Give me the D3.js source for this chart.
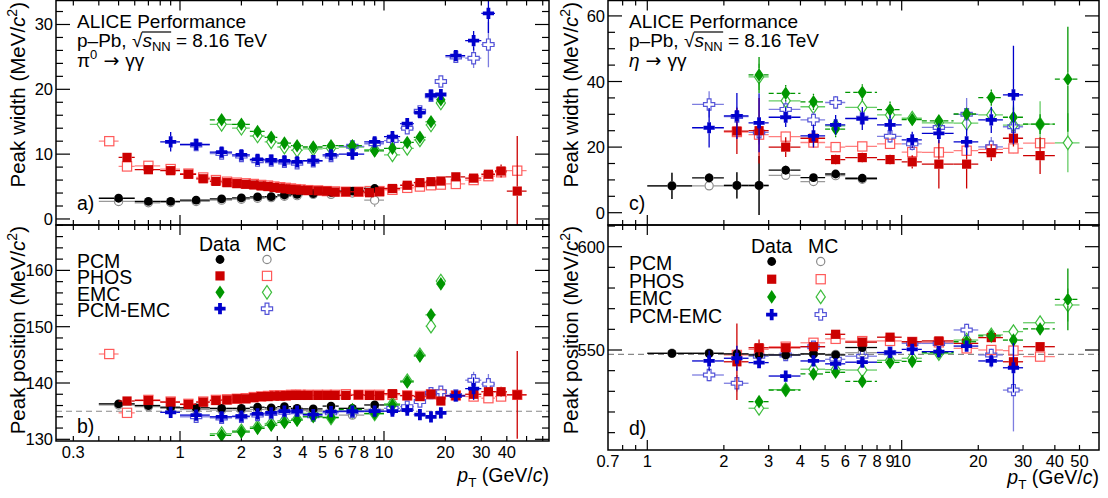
<!DOCTYPE html>
<html>
<head>
<meta charset="utf-8">
<script src="https://cdn.jsdelivr.net/npm/d3@7"></script>
<style>
  body { margin: 0; background: #fff; }
  text { font-family: 'Liberation Sans', Arial, Helvetica, sans-serif; fill: #000; }
</style>
</head>
<body>
<div id="chart"></div>
<script>
// ---------- data: [pT, low edge, high edge] and [value, error] ----------
// pi0, PCM
const pi0PcmBins = [[0.5,0.4,0.6],[0.7,0.6,0.8],[0.9,0.8,1.0],[1.2,1.0,1.4],[1.6,1.4,1.8],[2.0,1.8,2.2],[2.4,2.2,2.6],[2.8,2.6,3.0],[3.25,3.0,3.5],[3.75,3.5,4.0],[4.5,4,5],[5.5,5,6],[7,6,8],[9,8,10]]
const pi0PcmWidth = [[3.2,0.1],[2.7,0.1],[2.7,0.1],[2.9,0.1],[3.1,0.1],[3.25,0.1],[3.4,0.1],[3.45,0.1],[3.7,0.1],[3.8,0.1],[3.9,0.1],[4.1,0.15],[4.3,0.15],[4.7,0.3]]
const pi0PcmWidthMC = [[2.7,0.1],[2.5,0.1],[2.55,0.1],[2.7,0.1],[2.9,0.1],[3.05,0.1],[3.2,0.1],[3.3,0.1],[3.5,0.1],[3.6,0.1],[3.8,0.1],[3.8,0.15],[4.0,0.2],[2.9,1.0]]
const pi0PcmPos = [[136.3,0.1],[136.0,0.1],[135.7,0.1],[135.6,0.1],[135.5,0.1],[135.5,0.1],[135.7,0.1],[135.6,0.1],[135.8,0.1],[135.5,0.1],[135.4,0.1],[135.9,0.15],[135.5,0.2],[136.1,0.3]]
const pi0PcmPosMC = [[136.1,0.1],[135.8,0.1],[135.5,0.1],[135.3,0.1],[135.2,0.1],[135.2,0.1],[135.3,0.1],[135.3,0.1],[135.4,0.1],[135.2,0.1],[135.1,0.1],[135.1,0.15],[134.3,0.2],[135.3,0.4]]

// pi0, PHOS
const pi0PhosBins = [[0.45,0.4,0.5],[0.55,0.5,0.6],[0.7,0.6,0.8],[0.9,0.8,1.0],[1.1,1.0,1.2],[1.3,1.2,1.4],[1.5,1.4,1.6],[1.7,1.6,1.8],[1.9,1.8,2.0],[2.1,2.0,2.2],[2.3,2.2,2.4],[2.5,2.4,2.6],[2.7,2.6,2.8],[2.9,2.8,3.0],[3.1,3.0,3.2],[3.3,3.2,3.4],[3.5,3.4,3.6],[3.7,3.6,3.8],[3.9,3.8,4.0],[4.25,4.0,4.5],[4.75,4.5,5.0],[5.25,5.0,5.5],[5.75,5.5,6.0],[6.5,6,7],[7.5,7,8],[8.5,8,9],[9.5,9,10],[11,10,12],[13,12,14],[15,14,16],[17,16,18],[19,18,20],[22.5,20,25],[27.5,25,30],[32.5,30,35],[37.5,35,40],[45,40,50]]
const pi0PhosWidth = [null,[9.5,0.6],[7.6,0.3],[7.45,0.2],[6.9,0.15],[6.2,0.1],[5.8,0.1],[5.6,0.1],[5.45,0.1],[5.35,0.1],[5.25,0.1],[5.1,0.1],[5.0,0.1],[4.85,0.1],[4.75,0.1],[4.65,0.1],[4.55,0.1],[4.5,0.1],[4.45,0.1],[4.4,0.1],[4.35,0.1],[4.3,0.1],[4.15,0.1],[4.2,0.1],[4.2,0.1],[4.05,0.15],[4.2,0.15],[4.7,0.15],[5.2,0.2],[5.6,0.2],[5.75,0.25],[5.85,0.3],[6.5,0.3],[6.3,0.4],[6.9,0.6],[7.4,1.0],[4.3,8.5]]
const pi0PhosWidthMC = [[12.0,0.5],[8.1,0.3],[8.2,0.2],[7.7,0.15],[7.0,0.1],[6.4,0.1],[6.0,0.1],[5.75,0.1],[5.6,0.1],[5.5,0.1],[5.4,0.1],[5.25,0.1],[5.15,0.1],[5.0,0.1],[4.9,0.1],[4.8,0.1],[4.7,0.1],[4.6,0.1],[4.55,0.1],[4.45,0.1],[4.4,0.1],[4.3,0.1],[4.25,0.1],[4.2,0.1],[4.2,0.1],[4.3,0.1],[4.3,0.1],[4.5,0.1],[4.8,0.1],[5.0,0.1],[5.2,0.15],[5.3,0.15],[5.4,0.2],[6.0,0.25],[6.6,0.3],[7.2,0.4],[7.45,0.5]]
const pi0PhosPos = [null,[136.8,0.4],[136.9,0.2],[136.6,0.15],[136.2,0.1],[136.6,0.1],[136.9,0.1],[137.0,0.1],[137.2,0.1],[137.2,0.1],[137.4,0.1],[137.6,0.1],[137.6,0.1],[137.7,0.1],[137.7,0.1],[137.75,0.1],[137.8,0.1],[137.8,0.1],[137.8,0.1],[137.8,0.1],[137.8,0.1],[137.8,0.1],[137.8,0.1],[137.8,0.1],[137.9,0.1],[137.8,0.1],[137.75,0.1],[138.1,0.15],[137.75,0.15],[137.6,0.2],[138.0,0.2],[136.8,0.3],[137.75,0.3],[138.0,0.4],[138.45,0.6],[138.45,0.9],[137.9,7.8]]
const pi0PhosPosMC = [[145.15,0.4],[134.7,0.3],[137.0,0.2],[136.7,0.1],[136.3,0.1],[136.7,0.1],[137.0,0.1],[137.1,0.1],[137.2,0.1],[137.3,0.1],[137.5,0.1],[137.6,0.1],[137.7,0.1],[137.8,0.1],[137.8,0.1],[137.8,0.1],[137.9,0.1],[137.9,0.1],[137.9,0.1],[137.9,0.1],[137.9,0.1],[137.9,0.1],[137.9,0.1],[138.0,0.1],[137.9,0.1],[137.9,0.1],[137.9,0.1],[137.9,0.1],[137.8,0.1],[137.7,0.1],[138.0,0.15],[138.0,0.15],[137.8,0.2],[137.6,0.3],[137.3,0.4],[137.6,0.5],[137.9,0.6]]

// pi0, EMC
const pi0EmcBins = [[1.6,1.4,1.8],[2.0,1.8,2.2],[2.4,2.2,2.6],[2.8,2.6,3.0],[3.25,3.0,3.5],[3.75,3.5,4.0],[4.5,4,5],[5.5,5,6],[7,6,8],[9,8,10],[11,10,12],[13,12,14],[15,14,16],[17,16,18],[19,18,20]]
const pi0EmcWidth = [[15.3,0.3],[14.6,0.3],[13.5,0.3],[12.6,0.3],[11.7,0.3],[11.3,0.3],[11.1,0.3],[11.3,0.3],[11.3,0.3],[10.5,0.3],[10.9,0.3],[11.8,0.4],[12.6,0.4],[15.0,0.5],[18.4,0.7]]
const pi0EmcWidthMC = [[14.6,0.3],[14.0,0.3],[12.8,0.3],[11.9,0.3],[11.1,0.3],[10.6,0.3],[10.8,0.3],[10.9,0.3],[11.1,0.3],[10.7,0.3],[9.9,0.3],[10.9,0.4],[12.2,0.4],[14.5,0.5],[17.9,0.7]]
const pi0EmcPos = [[130.7,0.2],[131.3,0.2],[131.95,0.2],[132.5,0.2],[133.0,0.2],[133.4,0.2],[134.0,0.2],[133.9,0.2],[135.3,0.2],[134.6,0.2],[136.1,0.3],[140.2,0.3],[144.8,0.4],[152.1,0.5],[157.6,0.6]]
const pi0EmcPosMC = [[131.0,0.2],[131.5,0.2],[132.2,0.2],[132.8,0.2],[133.3,0.2],[133.6,0.2],[134.6,0.2],[133.8,0.2],[135.0,0.2],[134.5,0.2],[136.3,0.3],[140.4,0.3],[145.0,0.4],[150.1,0.5],[158.1,0.6]]

// pi0, PCM-EMC
const pi0PcmEmcBins = [[0.9,0.8,1.0],[1.2,1.0,1.4],[1.6,1.4,1.8],[2.0,1.8,2.2],[2.4,2.2,2.6],[2.8,2.6,3.0],[3.25,3.0,3.5],[3.75,3.5,4.0],[4.5,4,5],[5.5,5,6],[7,6,8],[9,8,10],[11,10,12],[13,12,14],[15,14,16],[17,16,18],[19,18,20],[22.5,20,25],[27.5,25,30],[32.5,30,35]]
const pi0PcmEmcWidth = [[11.9,1.5],[11.5,0.4],[10.3,0.3],[9.9,0.3],[9.2,0.3],[9.1,0.3],[8.95,0.3],[8.8,0.3],[9.0,0.3],[9.9,0.3],[10.0,0.3],[11.9,0.4],[12.7,0.4],[14.7,0.4],[16.4,0.5],[19.1,0.6],[19.2,0.8],[25.2,0.8],[27.5,1.5],[31.7,3.0]]
const pi0PcmEmcWidthMC = [null,[11.4,0.4],[10.1,0.3],[9.7,0.3],[9.0,0.3],[9.0,0.3],[8.8,0.3],[8.6,0.3],[8.9,0.3],[9.7,0.3],[11.2,0.3],[11.6,0.4],[12.1,0.4],[14.0,0.4],[16.6,0.5],[19.0,0.6],[21.2,0.8],[25.0,0.8],[24.8,1.5],[26.9,3.5]]
const pi0PcmEmcPos = [[134.8,0.3],[134.3,0.2],[134.0,0.2],[134.1,0.2],[134.5,0.2],[134.7,0.2],[135.0,0.2],[135.0,0.2],[134.4,0.2],[134.9,0.2],[135.0,0.2],[135.0,0.2],[135.0,0.2],[135.2,0.2],[134.4,0.3],[134.0,0.3],[134.7,0.4],[137.7,0.6],[139.0,2.0],null]
const pi0PcmEmcPosMC = [null,[134.0,0.2],[133.8,0.2],[134.0,0.2],[134.3,0.2],[134.6,0.2],[134.8,0.2],[134.9,0.2],[134.2,0.2],[134.7,0.2],[134.9,0.2],[135.0,0.2],[135.5,0.2],[135.8,0.2],[136.7,0.3],[138.2,0.3],[138.45,0.4],[137.8,0.6],[140.5,1.5],[139.8,1.8]]

// eta, PCM
const etaPcmBins = [[1.25,1.0,1.5],[1.75,1.5,2.0],[2.25,2.0,2.5],[2.75,2.5,3.0],[3.5,3,4],[4.5,4,5],[5.5,5,6],[7,6,8]]
const etaPcmWidth = [[8.2,4],[10.6,1.5],[8.3,4],[8.3,9],[13.0,1.5],[10.7,1.2],[11.8,1.2],[10.5,1.0]]
const etaPcmWidthMC = [[8.2,4],[8.2,1.2],[8.3,4],[8.3,9],[11.4,1],[9.5,1],[11.3,1],[10.2,1]]
const etaPcmPos = [[548.4,0.6],[548.4,0.6],[548.1,0.6],[547.6,0.8],[547.6,0.8],[548.1,0.8],[547.6,0.8],[551.2,1.5]]
const etaPcmPosMC = [[548.4,0.6],[548.4,0.6],[548.1,0.6],[547.6,0.8],[547.6,0.8],[548.1,0.8],[547.9,0.8],[548.7,1.5]]

// eta, PHOS
const etaPhosBins = [[2.25,2,2.5],[2.75,2.5,3],[3.5,3,4],[4.5,4,5],[5.5,5,6],[7,6,8],[9,8,10],[11,10,12],[14,12,16],[18,16,20],[22.5,20,25],[27.5,25,30],[35,30,40]]
const etaPhosWidth = [[24.9,7],[25.0,10],[20.0,3],[22.7,2.5],[16.2,1.5],[16.8,1.5],[16.2,1.5],[15.5,2],[14.8,7.4],[14.8,7.4],[18.3,2.5],[22.7,2.5],[17.4,5.6]]
const etaPhosWidthMC = [[24.6,2],[23.8,3],[23.2,1.5],[21.4,1.5],[20.0,1],[20.2,1],[21.0,1],[18.5,1],[18.4,1],[18.9,1],[19.3,1],[19.6,1.5],[21.2,1.5]]
const etaPhosPos = [[544.3,18.5],[551.1,4],[551.1,2],[551.6,1.5],[557.6,2],[553.8,1.5],[556.2,1.5],[554.0,1.5],[554.4,1.5],[553.2,2],[556.0,1.5],[544.3,2.5],[551.6,2]]
const etaPhosPosMC = [[547.6,2],[550.3,2],[551.6,1.5],[553.5,1.5],[555.4,1.5],[554.3,1.5],[554.4,1.5],[553.9,1.5],[553.7,1.5],[550.8,1.5],[550.0,1.5],[549.7,2],[546.8,2]]

// eta, EMC
const etaEmcBins = [[2.75,2.5,3],[3.5,3,4],[4.5,4,5],[5.5,5,6],[7,6,8],[9,8,10],[11,10,12],[14,12,16],[18,16,20],[22.5,20,25],[27.5,25,30],[35,30,40],[45,40,50]]
const etaEmcWidth = [[42.0,5.5],[36.4,2.5],[33.8,2.5],[25.5,2.5],[36.7,2.5],[31.4,2.5],[28.4,2],[28.0,2],[30.1,2],[35.1,2.5],[29.1,3],[27.0,3],[40.7,16]]
const etaEmcWidthMC = [[41.4,4],[34.1,2],[32.3,2],[26.5,2],[32.1,2],[29.8,2],[28.8,2],[27.4,2],[27.3,2],[29.8,2],[26.7,6],[27.0,7],[21.3,9]]
const etaEmcPos = [[525.0,3],[530.6,2],[538.4,2],[539.2,1.5],[534.8,2],[544.0,1.5],[544.5,1.5],[548.9,1.5],[554.0,1.5],[556.8,2],[554.8,2],[560.2,2],[574.5,15]]
const etaEmcPosMC = [[521.8,3],[530.8,2],[540.7,2],[540.5,2],[540.3,2],[545.0,1.5],[546.0,1.5],[548.3,1.5],[554.8,1.5],[557.3,2],[558.9,2],[563.2,2],[571.8,8]]

// eta, PCM-EMC
const etaPcmEmcBins = [[1.75,1.5,2],[2.25,2,2.5],[2.75,2.5,3],[3.5,3,4],[4.5,4,5],[5.5,5,6],[7,6,8],[9,8,10],[11,10,12],[14,12,16],[18,16,20],[22.5,20,25],[27.5,25,30]]
const etaPcmEmcWidth = [[25.9,6],[29.5,7],[27.4,9],[29.1,3],[23.4,3.5],[26.8,3],[28.7,3.5],[26.8,3],[22.2,2.5],[24.2,3],[21.6,4],[28.3,4],[35.9,15]]
const etaPcmEmcWidthMC = [[33.0,4],[29.3,3],[24.5,3],[31.5,2.5],[28.3,2.5],[33.6,2],[28.8,2],[23.3,2],[21.0,2],[26.0,2],[30.0,5],[20.1,3],[26.2,3]]
const etaPcmEmcPos = [[544.7,5],[546.0,6],[543.9,2],[537.4,2],[544.7,2],[543.3,2],[544.1,2],[548.8,2],[550.3,2],[549.2,2],[551.9,2],[544.7,3],[541.4,12]]
const etaPcmEmcPosMC = [[537.9,3],[533.9,4],[547.0,2],[547.6,2],[551.6,2],[545.5,2],[547.0,2],[548.7,2],[553.2,2],[553.2,2],[559.7,3],[547.6,3],[530.6,20]]

const detectors = ['PCM', 'PHOS', 'EMC', 'PCM-EMC']
const pi0Mass = 134.98
const etaMass = 547.86
const pi0XTicks = [0.3, 1, 2, 3, 4, 5, 6, 7, 8, 10, 20, 30, 40]
const etaXTicks = [0.7, 1, 2, 3, 4, 5, 6, 7, 8, 9, 10, 20, 30, 40, 50]

// ---------- styles ----------
const styles = {
  PCM: { shape: 'circle', color: '#000000', mc: '#8a8a8a', mcLine: '#9a9a9a', gx: 4.5, gy: 4.5 },
  PHOS: { shape: 'square', color: '#cc0000', mc: '#ff5a5a', mcLine: '#ff8080', gx: 4.6, gy: 4.6 },
  EMC: { shape: 'diamond', color: '#009600', mc: '#3dbd3d', mcLine: '#66cc66', gx: 4.5, gy: 6.5, dash: '5,3' },
  'PCM-EMC': { shape: 'cross', color: '#0000cc', mc: '#5555d8', mcLine: '#7d7de0', gx: 5.5, gy: 5.5 }
}
const t = 1.9, a = 5.6
const paths = {
  diamond: 'M0,-6.8L4.6,0L0,6.8L-4.6,0Z',
  cross: `M${-t},${-a}H${t}V${-t}H${a}V${t}H${t}V${a}H${-t}V${t}H${-a}V${-t}H${-t}Z`
}

const svg = d3.select('#chart').append('svg')
  .attr('width', 1108)
  .attr('height', 498)

function addPanel(o) {
  const x = d3.scaleLog().domain(o.xd).range([o.x0, o.x1])
  const y = d3.scaleLinear().domain(o.yd).range([o.y1, o.y0])
  const clip = 'clip-' + o.name
  svg.append('clipPath').attr('id', clip)
    .append('rect')
    .attr('x', o.x0).attr('y', o.y0)
    .attr('width', o.x1 - o.x0).attr('height', o.y1 - o.y0)
  const g = svg.append('g')
  const ticks = g.append('g').attr('stroke', '#000').attr('stroke-width', 1.2)

  // log x ticks on top and bottom
  for (let e = -1; e <= 2; e++) {
    for (let m = 1; m <= 9; m++) {
      const v = m * Math.pow(10, e)
      if (v < o.xd[0] || v > o.xd[1]) continue
      const len = m === 1 ? 10 : 5
      const px = x(v)
      ticks.append('line').attr('x1', px).attr('x2', px).attr('y1', o.y1).attr('y2', o.y1 - len)
      ticks.append('line').attr('x1', px).attr('x2', px).attr('y1', o.y0).attr('y2', o.y0 + len)
    }
  }
  // linear y ticks on left and right
  for (let k = Math.ceil(o.yd[0] / o.minor); k * o.minor <= o.yd[1]; k++) {
    const v = k * o.minor
    const major = Math.abs(Math.round(v / o.major) * o.major - v) < 1e-9
    const len = major ? 14 : 7
    const py = y(v)
    ticks.append('line').attr('x1', o.x0).attr('x2', o.x0 + len).attr('y1', py).attr('y2', py)
    ticks.append('line').attr('x1', o.x1).attr('x2', o.x1 - len).attr('y1', py).attr('y2', py)
  }
  o.yLabels.forEach(v => {
    g.append('text').attr('x', o.x0 - 3).attr('y', y(v) + 6)
      .attr('text-anchor', 'end').attr('font-size', 16.5).text(v)
  })
  if (o.xLabels) {
    o.xLabels.forEach(v => {
      g.append('text').attr('x', x(v)).attr('y', o.y1 + 17)
        .attr('text-anchor', 'middle').attr('font-size', 16.5).text(v)
    })
  }
  const layer = g.append('g').attr('clip-path', `url(#${clip})`)
  g.append('rect')
    .attr('x', o.x0).attr('y', o.y0)
    .attr('width', o.x1 - o.x0).attr('height', o.y1 - o.y0)
    .attr('fill', 'none').attr('stroke', '#000').attr('stroke-width', 1.5)
  return { x, y, g, layer }
}

function marker(sel, shape, cx, cy, color, open) {
  let m
  if (shape === 'circle') {
    m = sel.append('circle').attr('cx', cx).attr('cy', cy).attr('r', open ? 4.1 : 4.4)
  } else if (shape === 'square') {
    m = sel.append('rect').attr('x', cx - 4.6).attr('y', cy - 4.6).attr('width', 9.2).attr('height', 9.2)
  } else {
    m = sel.append('path').attr('d', paths[shape]).attr('transform', `translate(${cx},${cy})`)
  }
  if (open) m.attr('fill', 'none').attr('stroke', color).attr('stroke-width', 1.2)
  else m.attr('fill', color)
}

function seg(sel, x1, y1, x2, y2, color, width, dash) {
  const l = sel.append('line')
    .attr('x1', x1).attr('y1', y1).attr('x2', x2).attr('y2', y2)
    .attr('stroke', color).attr('stroke-width', width)
  if (dash) l.attr('stroke-dasharray', dash)
}

function drawSeries(p, det, bins, vals, isMC) {
  const st = styles[det]
  const col = isMC ? st.mcLine : st.color
  const sel = p.layer.append('g')
  bins.forEach((b, i) => {
    const v = vals[i]
    if (!v) return
    const cx = p.x(b[0]), cy = p.y(v[0])
    const xl = p.x(b[1]), xr = p.x(b[2])
    const dash = isMC ? null : st.dash
    if (cx - st.gx > xl) seg(sel, xl, cy, cx - st.gx, cy, col, 1.3, dash)
    if (cx + st.gx < xr) seg(sel, cx + st.gx, cy, xr, cy, col, 1.3, dash)
    const yt = p.y(v[0] + v[1]), yb = p.y(v[0] - v[1])
    if (yt < cy - st.gy) seg(sel, cx, yt, cx, cy - st.gy, col, 1.3)
    if (yb > cy + st.gy) seg(sel, cx, cy + st.gy, cx, yb, col, 1.3)
    marker(sel, st.shape, cx, cy, isMC ? st.mc : st.color, isMC)
  })
}

function drawAll(p, sets) {
  sets.forEach(s => drawSeries(p, s[0], s[1], s[3], true))
  sets.forEach(s => drawSeries(p, s[0], s[1], s[2], false))
}

function massLine(p, m, x0, x1) {
  p.layer.insert('line', ':first-child')
    .attr('x1', x0).attr('x2', x1).attr('y1', p.y(m)).attr('y2', p.y(m))
    .attr('stroke', '#888').attr('stroke-width', 1.2).attr('stroke-dasharray', '6,4')
}

// ---------- panels ----------
const pA = addPanel({ name: 'a', x0: 56, x1: 549, y0: 0.5, y1: 225, xd: [0.2467, 64.4], yd: [-0.93, 33.7], major: 10, minor: 2, yLabels: [0, 10, 20, 30] })
const pB = addPanel({ name: 'b', x0: 56, x1: 549, y0: 225, y1: 441, xd: [0.2467, 64.4], yd: [129.7, 168.06], major: 10, minor: 2, yLabels: [130, 140, 150, 160], xLabels: pi0XTicks })
const pC = addPanel({ name: 'c', x0: 608, x1: 1099, y0: 0.5, y1: 225, xd: [0.7007, 59.65], yd: [-3.75, 64.7], major: 20, minor: 5, yLabels: [0, 20, 40, 60] })
const pD = addPanel({ name: 'd', x0: 608, x1: 1099, y0: 225, y1: 450, xd: [0.7007, 59.65], yd: [501.6, 610.5], major: 50, minor: 10, yLabels: [550, 600], xLabels: etaXTicks })

massLine(pB, pi0Mass, 56, 549)
massLine(pD, etaMass, 608, 1099)

drawAll(pA, [['PCM', pi0PcmBins, pi0PcmWidth, pi0PcmWidthMC], ['PHOS', pi0PhosBins, pi0PhosWidth, pi0PhosWidthMC], ['EMC', pi0EmcBins, pi0EmcWidth, pi0EmcWidthMC], ['PCM-EMC', pi0PcmEmcBins, pi0PcmEmcWidth, pi0PcmEmcWidthMC]])
drawAll(pB, [['PCM', pi0PcmBins, pi0PcmPos, pi0PcmPosMC], ['PHOS', pi0PhosBins, pi0PhosPos, pi0PhosPosMC], ['EMC', pi0EmcBins, pi0EmcPos, pi0EmcPosMC], ['PCM-EMC', pi0PcmEmcBins, pi0PcmEmcPos, pi0PcmEmcPosMC]])
drawAll(pC, [['PCM', etaPcmBins, etaPcmWidth, etaPcmWidthMC], ['PHOS', etaPhosBins, etaPhosWidth, etaPhosWidthMC], ['EMC', etaEmcBins, etaEmcWidth, etaEmcWidthMC], ['PCM-EMC', etaPcmEmcBins, etaPcmEmcWidth, etaPcmEmcWidthMC]])
drawAll(pD, [['PCM', etaPcmBins, etaPcmPos, etaPcmPosMC], ['PHOS', etaPhosBins, etaPhosPos, etaPhosPosMC], ['EMC', etaEmcBins, etaEmcPos, etaEmcPosMC], ['PCM-EMC', etaPcmEmcBins, etaPcmEmcPos, etaPcmEmcPosMC]])

// ---------- texts ----------
function yTitle(x, y, label) {
  const tx = svg.append('text')
    .attr('transform', `translate(${x},${y}) rotate(-90)`)
    .attr('text-anchor', 'end').attr('font-size', 20.5)
  tx.append('tspan').text(label + ' (MeV/')
  tx.append('tspan').attr('font-style', 'italic').text('c')
  tx.append('tspan').attr('font-size', 14).attr('dy', -8).text('2')
  tx.append('tspan').attr('dy', 8).text(')')
}
yTitle(25, 2, 'Peak width')
yTitle(25, 226, 'Peak position')
yTitle(578, 2, 'Peak width')
yTitle(578, 226, 'Peak position')

function xTitle(x, y) {
  const tx = svg.append('text').attr('x', x).attr('y', y)
    .attr('text-anchor', 'end').attr('font-size', 19.5)
  tx.append('tspan').attr('font-style', 'italic').text('p')
  tx.append('tspan').attr('font-size', 13.5).attr('dy', 5).text('T')
  tx.append('tspan').attr('dy', -5).text(' (GeV/')
  tx.append('tspan').attr('font-style', 'italic').text('c')
  tx.append('tspan').text(')')
}
xTitle(549, 482)
xTitle(1099, 484)

function header(x, meson, italic) {
  svg.append('text').attr('x', x).attr('y', 28).attr('font-size', 19).text('ALICE Performance')
  const l2 = svg.append('text').attr('x', x).attr('y', 47).attr('font-size', 19)
  l2.append('tspan').text('p\u2013Pb, ')
  l2.append('tspan').text('\u221A')
  const sPart = l2.append('tspan').attr('font-style', 'italic').text('s')
  const nnPart = l2.append('tspan').attr('font-size', 13).attr('dy', 4).text('NN')
  l2.append('tspan').attr('dy', -4).text(' = 8.16 TeV')
  const b1 = sPart.node().getBBox()
  const b2 = nnPart.node().getBBox()
  svg.append('line')
    .attr('x1', b1.x - 0.5).attr('x2', b2.x + b2.width + 0.5)
    .attr('y1', 47 - 15).attr('y2', 47 - 15)
    .attr('stroke', '#000').attr('stroke-width', 1.2)
  const l3 = svg.append('text').attr('x', x).attr('y', 67).attr('font-size', 19)
  l3.append('tspan').attr('font-style', italic ? 'italic' : 'normal').text(meson)
  if (!italic) l3.append('tspan').attr('font-size', 13).attr('dy', -8).text('0')
  l3.append('tspan').attr('dy', italic ? 0 : 8).attr('font-family', 'DejaVu Sans').text('\u00A0\u2192\u00A0')
  l3.append('tspan').text('\u03B3\u03B3')
}
header(77, '\u03C0', false)
header(629, '\u03B7', true)

const panelTags = [['a)', 77, 210], ['b)', 77, 433], ['c)', 629, 210], ['d)', 629, 434.5]]
panelTags.forEach(d => svg.append('text').attr('x', d[1]).attr('y', d[2]).attr('font-size', 19.5).text(d[0]))

function legend(o) {
  svg.append('text').attr('x', o.dataX).attr('y', o.headY).attr('font-size', 19.5).text('Data')
  svg.append('text').attr('x', o.mcX).attr('y', o.headY).attr('font-size', 19.5).text('MC')
  detectors.forEach((det, i) => {
    const ty = o.rowY + i * o.step
    svg.append('text').attr('x', o.textX).attr('y', ty).attr('font-size', 19.5).text(det)
    const st = styles[det]
    marker(svg, st.shape, o.mData, ty - 8.5, st.color, false)
    marker(svg, st.shape, o.mMC, ty - 8.5, st.mc, true)
  })
}
legend({ textX: 77, rowY: 268, step: 16.4, dataX: 199, mcX: 256, headY: 250.7, mData: 220, mMC: 267 })
legend({ textX: 629, rowY: 270, step: 17.7, dataX: 751, mcX: 808, headY: 252.5, mData: 771.7, mMC: 820.7 })
</script>
</body>
</html>
